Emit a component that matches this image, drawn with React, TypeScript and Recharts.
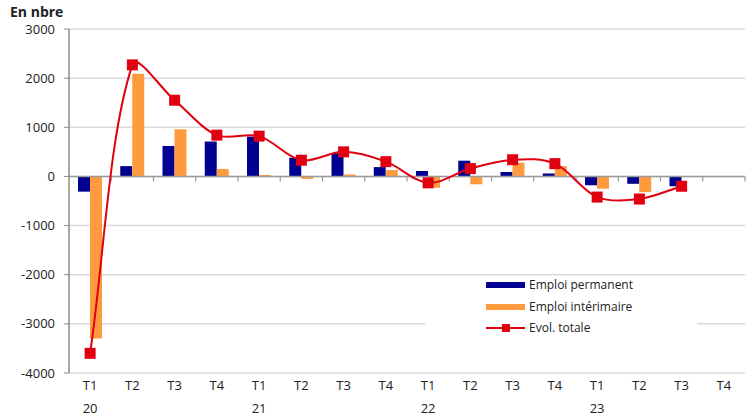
import React from 'react';
import { ComposedChart, Bar, Line, XAxis, YAxis, CartesianGrid, ReferenceLine, Legend } from 'recharts';

const quarters = ['T1', 'T2', 'T3', 'T4', 'T1', 'T2', 'T3', 'T4', 'T1', 'T2', 'T3', 'T4', 'T1', 'T2', 'T3', 'T4'];
const years = ['20', '', '', '', '21', '', '', '', '22', '', '', '', '23', '', '', ''];
const emploiPermanent = [-310, 210, 620, 710, 810, 380, 470, 190, 110, 320, 90, 60, -180, -150, -200, null];
const emploiInterimaire = [-3300, 2090, 960, 150, 30, -50, 40, 130, -230, -160, 280, 210, -250, -320, -10, null];
const evolTotale = [-3600, 2270, 1550, 840, 820, 330, 500, 300, -130, 160, 340, 260, -420, -460, -200, null];
const yTicks = [-4000, -3000, -2000, -1000, 0, 1000, 2000, 3000];
const legendOrder = ['perm', 'interim', 'total'];

const NAVY = '#000091';
const ORANGE = '#FF9B3F';
const RED = '#E1000F';
const FONT = '"Open Sans", "Liberation Sans", sans-serif';

const data = quarters.map((q, i) => ({
  q,
  year: years[i],
  perm: emploiPermanent[i],
  interim: emploiInterimaire[i],
  total: evolTotale[i],
}));

// excel-like smoothing : bezier whose handles scale with segment length
const excelSmooth = (context: any) => {
  let pts: number[][] = [];
  return {
    areaStart() {},
    areaEnd() {},
    lineStart() {
      pts = [];
    },
    point(x: number, y: number) {
      pts.push([+x, +y]);
    },
    lineEnd() {
      if (!pts.length) return;
      const dist = (a: number[], b: number[]) => Math.hypot(b[0] - a[0], b[1] - a[1]);
      context.moveTo(pts[0][0], pts[0][1]);
      for (let i = 0; i < pts.length - 1; i++) {
        const p0 = pts[i - 1] || pts[i];
        const p1 = pts[i];
        const p2 = pts[i + 1];
        const p3 = pts[i + 2] || p2;
        const d01 = dist(p0, p1);
        const d12 = dist(p1, p2);
        const d23 = dist(p2, p3);
        const a = d01 + d12 > 0 ? d12 / (d01 + d12) / 3 : 0;
        const b = d12 + d23 > 0 ? d12 / (d12 + d23) / 3 : 0;
        context.bezierCurveTo(
          p1[0] + (p2[0] - p0[0]) * a,
          p1[1] + (p2[1] - p0[1]) * a,
          p2[0] - (p3[0] - p1[0]) * b,
          p2[1] - (p3[1] - p1[1]) * b,
          p2[0],
          p2[1]
        );
      }
    },
  };
};

const QuarterTick = (props: any) => {
  const { x, y, payload } = props;
  const yr = years[payload.index];
  return (
    <g>
      <text x={x} y={y + 17} textAnchor="middle" fontSize={13} fill="#222" fontFamily={FONT}>
        {payload.value}
      </text>
      {yr ? (
        <text x={x} y={y + 40} textAnchor="middle" fontSize={13} fill="#222" fontFamily={FONT}>
          {yr}
        </text>
      ) : null}
    </g>
  );
};

const SquareDot = (props: any) => {
  const { cx, cy, index } = props;
  if (cx == null || cy == null || props.value == null) return <g key={index} />;
  return <rect key={index} x={cx - 5.5} y={cy - 5.5} width={11} height={11} fill={RED} />;
};

const ZeroAxis = (props: any) => {
  const { x1, x2, y1 } = props;
  if (x1 == null) return null;
  const step = (x2 - x1) / quarters.length;
  return (
    <g>
      <line x1={x1} x2={x2} y1={y1} y2={y1} stroke="#9a9a9a" strokeWidth={1.5} />
      {quarters.map((_, i) => (
        <line key={i} x1={x1 + step * (i + 1)} x2={x1 + step * (i + 1)} y1={y1} y2={y1 + 5} stroke="#9a9a9a" strokeWidth={1.2} />
      ))}
    </g>
  );
};

const LegendBox = (props: any) => {
  const items = [...(props.payload || [])].sort(
    (a: any, b: any) => legendOrder.indexOf(a.dataKey) - legendOrder.indexOf(b.dataKey)
  );
  return (
    <div style={{ background: '#fff', width: 272, height: 64, position: 'relative', fontFamily: FONT }}>
      {items.map((it: any, i: number) => {
        const top = 8 + i * 21.5;
        const isLine = it.dataKey === 'total';
        return (
          <div key={i} style={{ position: 'absolute', left: 0, top: top - 8, height: 16, width: 272 }}>
            {isLine ? (
              <svg style={{ position: 'absolute', left: 61, top: 2 }} width={39} height={12}>
                <line x1={0} x2={39} y1={6} y2={6} stroke={RED} strokeWidth={2} />
                <rect x={16} y={2} width={8} height={8} fill={RED} />
              </svg>
            ) : (
              <div style={{ position: 'absolute', left: 61, top: 5, width: 39, height: 6, background: it.color }} />
            )}
            <span style={{ position: 'absolute', left: 104, top: 0, fontSize: 12, color: '#222', lineHeight: '16px', whiteSpace: 'nowrap' }}>
              {it.value}
            </span>
          </div>
        );
      })}
    </div>
  );
};

export default function App() {
  return (
    <div style={{ position: 'absolute', left: 0, top: 0, width: 747, height: 418, background: '#fff' }}>
      <div style={{ position: 'absolute', left: 10, top: 4, fontFamily: FONT, fontWeight: 700, fontSize: 14, lineHeight: '16px', color: '#222' }}>
        En nbre
      </div>
      <ComposedChart
        width={747}
        height={418}
        data={data}
        margin={{ top: 29, right: 2, left: 9, bottom: 0 }}
        barGap={0}
        barSize={12}
      >
        <CartesianGrid vertical={false} stroke="#d9d9d9" strokeWidth={1.5} />
        <XAxis
          dataKey="q"
          height={45}
          axisLine={false}
          tickLine={false}
          tickSize={0}
          tickMargin={0}
          interval={0}
          tick={<QuarterTick />}
        />
        <YAxis
          width={60}
          domain={[-4000, 3000]}
          ticks={yTicks}
          interval={0}
          axisLine={{ stroke: '#8c8c8c', strokeWidth: 1.5 }}
          tickLine={{ stroke: '#8c8c8c' }}
          tickSize={5}
          tickMargin={9}
          tick={{ fontSize: 13, fill: '#222', fontFamily: FONT }}
        />
        <Bar dataKey="perm" name="Emploi permanent" fill={NAVY} isAnimationActive={false} />
        <Bar dataKey="interim" name="Emploi intérimaire" fill={ORANGE} isAnimationActive={false} />
        <ReferenceLine y={0} shape={<ZeroAxis />} />
        <Line
          dataKey="total"
          name="Evol. totale"
          type={excelSmooth as any}
          stroke={RED}
          strokeWidth={2}
          dot={<SquareDot />}
          activeDot={false}
          legendType="line"
          isAnimationActive={false}
        />
        <Legend
          layout="vertical"
          align="center"
          verticalAlign="middle"
          content={<LegendBox />}
          wrapperStyle={{ left: 425, top: 277, width: 272, height: 64 }}
        />
      </ComposedChart>
    </div>
  );
}
